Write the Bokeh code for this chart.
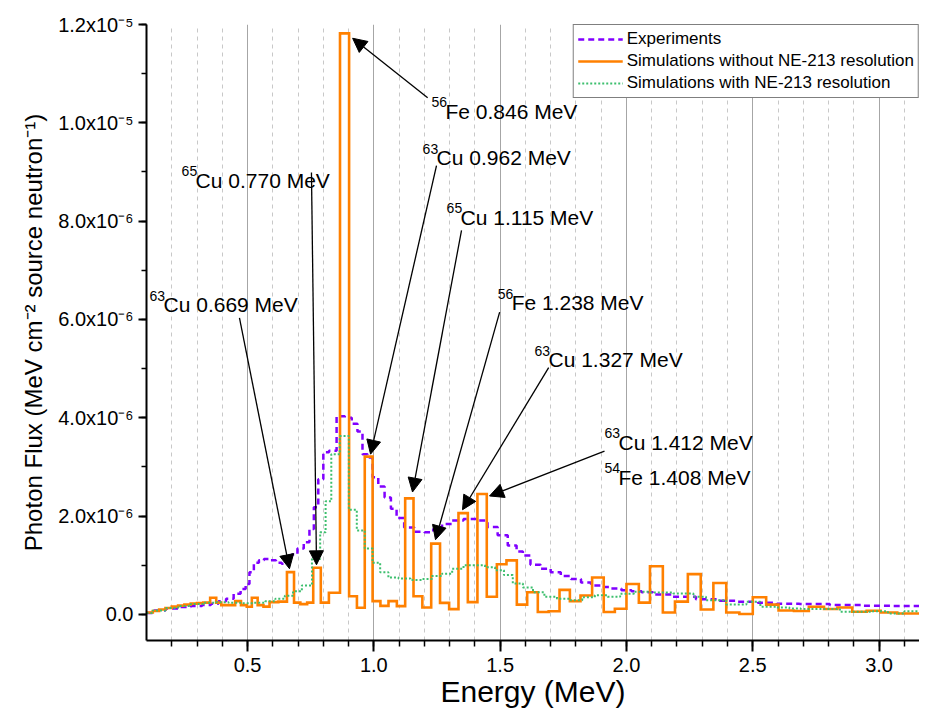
from bokeh.plotting import figure
from bokeh.models import ColumnDataSource, SingleIntervalTicker, Arrow, NormalHead, Range1d, PrintfTickFormatter
from bokeh.core.properties import value
from bokeh.embed import file_html
from bokeh.resources import INLINE

# ---------------- data (flux in units of 1e-6 MeV cm^-2 per source neutron) ----------------
# Simulations without NE-213 resolution: variable-width histogram (bin edges in MeV)
sim_edges = [0.100, 0.125, 0.150, 0.175, 0.200, 0.225, 0.250, 0.275, 0.300, 0.325,
             0.352, 0.376, 0.396, 0.423, 0.451, 0.474, 0.497, 0.517, 0.540, 0.563,
             0.587, 0.622, 0.656, 0.684, 0.709, 0.736, 0.760, 0.790, 0.822, 0.866,
             0.902, 0.933, 0.964, 0.995, 1.026, 1.058, 1.091, 1.124, 1.157, 1.192,
             1.227, 1.262, 1.298, 1.335, 1.372, 1.410, 1.447, 1.487, 1.525, 1.566,
             1.607, 1.649, 1.692, 1.735, 1.776, 1.818, 1.864, 1.910, 1.954, 2.000,
             2.049, 2.093, 2.144, 2.192, 2.243, 2.294, 2.344, 2.395, 2.447, 2.500,
             2.553, 2.602, 2.663, 2.722, 2.782, 2.835, 2.894, 2.951, 3.006, 3.072,
             3.132, 3.200]
sim_flux = [0.04, 0.07, 0.10, 0.13, 0.16, 0.18, 0.20, 0.22, 0.23, 0.24,
            0.34, 0.24, 0.19, 0.19, 0.27, 0.19, 0.155, 0.34, 0.19, 0.16,
            0.25, 0.26, 0.86, 0.24, 0.21, 0.24, 0.95, 0.24, 0.44, 11.82,
            0.37, 0.135, 3.21, 0.27, 0.175, 0.27, 0.17, 2.36, 0.37, 0.14,
            1.44, 0.236, 0.108, 2.06, 0.25, 2.45, 0.36, 1.02, 1.10, 0.20,
            0.45, 0.05, 0.065, 0.50, 0.27, 0.385, 0.75, 0.05, 0.115, 0.62,
            0.24, 0.98, 0.04, 0.26, 0.82, 0.10, 0.64, 0.04, 0.01, 0.35,
            0.20, 0.08, 0.07, 0.155, 0.11, 0.14, 0.054, 0.074, 0.04, 0.02,
            0.02]

# Experiments
exp_energy = [0.10, 0.15, 0.20, 0.25, 0.30, 0.34, 0.37, 0.40, 0.43, 0.46,
              0.485, 0.50, 0.515, 0.535, 0.555, 0.575, 0.60, 0.625, 0.645, 0.665,
              0.685, 0.71, 0.735, 0.755, 0.77, 0.79, 0.81, 0.835, 0.87, 0.90,
              0.925, 0.945, 0.965, 0.985, 1.005, 1.03, 1.055, 1.08, 1.10, 1.14,
              1.18, 1.22, 1.25, 1.29, 1.33, 1.38, 1.43, 1.47, 1.51, 1.55,
              1.58, 1.60, 1.64, 1.68, 1.72, 1.76, 1.80, 1.84, 1.88, 1.92,
              1.96, 2.00, 2.04, 2.08, 2.13, 2.23, 2.32, 2.40, 2.48, 2.56,
              2.63, 2.74, 2.87, 3.00, 3.10, 3.20]
exp_flux = [0.03, 0.08, 0.12, 0.15, 0.17, 0.19, 0.22, 0.27, 0.32, 0.42,
            0.52, 0.62, 0.86, 1.05, 1.10, 1.13, 1.10, 1.05, 1.03, 1.08,
            1.22, 1.34, 1.47, 1.74, 2.18, 2.75, 3.30, 3.33, 4.03, 4.00,
            3.88, 3.72, 3.26, 3.19, 2.79, 2.60, 2.38, 2.15, 1.96, 1.77,
            1.68, 1.67, 1.74, 1.84, 1.91, 1.94, 1.91, 1.78, 1.61, 1.40,
            1.28, 1.20, 1.01, 0.93, 0.86, 0.78, 0.72, 0.65, 0.59, 0.56,
            0.53, 0.49, 0.47, 0.45, 0.405, 0.36, 0.31, 0.28, 0.26, 0.236,
            0.22, 0.21, 0.19, 0.175, 0.17, 0.17]

# Simulations with NE-213 resolution
res_energy = [0.10, 0.15, 0.20, 0.25, 0.30, 0.35, 0.40, 0.45, 0.50, 0.55,
              0.59, 0.63, 0.665, 0.695, 0.735, 0.775, 0.80, 0.818, 0.845, 0.885,
              0.917, 0.948, 0.98, 1.01, 1.04, 1.075, 1.12, 1.17, 1.21, 1.25,
              1.29, 1.33, 1.38, 1.42, 1.46, 1.50, 1.53, 1.57, 1.61, 1.65,
              1.70, 1.75, 1.80, 1.85, 1.90, 1.95, 2.00, 2.06, 2.13, 2.24,
              2.29, 2.34, 2.45, 2.50, 2.56, 2.63, 2.66, 2.72, 2.80, 2.89,
              2.95, 3.00, 3.07, 3.13, 3.20]
res_flux = [0.03, 0.08, 0.13, 0.17, 0.21, 0.24, 0.25, 0.24, 0.23, 0.24,
            0.27, 0.32, 0.38, 0.47, 0.59, 1.13, 1.67, 2.30, 3.26, 3.63,
            2.13, 1.71, 1.34, 1.05, 0.86, 0.75, 0.73, 0.70, 0.72, 0.78,
            0.83, 0.93, 1.00, 1.00, 0.96, 0.90, 0.80, 0.63, 0.55, 0.45,
            0.36, 0.32, 0.29, 0.35, 0.39, 0.36, 0.42, 0.46, 0.445, 0.425,
            0.36, 0.29, 0.20, 0.26, 0.155, 0.14, 0.12, 0.11, 0.11, 0.054,
            0.055, 0.067, 0.02, 0.067, 0.067]

y_tick_values = [0, 2, 4, 6, 8, 10, 12]
y_tick_labels = ["0.0", "2.0x10⁻⁶", "4.0x10⁻⁶", "6.0x10⁻⁶", "8.0x10⁻⁶", "1.0x10⁻⁵", "1.2x10⁻⁵"]

# annotations: superscript, text, label anchor (E, flux), arrow tail, arrow tip
ann_sup = ["56", "63", "65", "56", "63", "63", "54", "63", "65"]
ann_text = ["Fe 0.846 MeV", "Cu 0.962 MeV", "Cu 1.115 MeV", "Fe 1.238 MeV", "Cu 1.327 MeV",
            "Cu 1.412 MeV", "Fe 1.408 MeV", "Cu 0.669 MeV", "Cu 0.770 MeV"]
ann_x = [1.228, 1.193, 1.288, 1.490, 1.636, 1.913, 1.913, 0.112, 0.239]
ann_y = [10.24, 9.29, 8.08, 6.34, 5.18, 3.50, 2.79, 6.30, 8.83]
arrows = [((1.213, 10.51), (0.916, 11.72)),
          ((1.248, 9.13), (0.987, 3.26)),
          ((1.347, 7.81), (1.153, 2.49)),
          ((1.498, 6.15), (1.244, 1.52)),
          ((1.692, 5.02), (1.351, 2.13)),
          ((1.913, 3.32), (1.458, 2.41)),
          ((0.468, 6.03), (0.666, 0.93)),
          ((0.753, 8.99), (0.773, 1.01))]

FONT = "Liberation Sans"

# ---------------- figure ----------------
p = figure(width=919, height=710, output_backend="svg", toolbar_location=None,
           x_range=Range1d(0.1, 3.16), y_range=Range1d(-0.53, 12.0),
           min_border_left=146, min_border_right=0, min_border_top=24, min_border_bottom=0)
p.outline_line_color = None
p.background_fill_color = "white"

# grid
p.ygrid.grid_line_color = None
p.xgrid.grid_line_color = "#a6a6a6"
p.xgrid.grid_line_width = 1
p.xgrid.minor_grid_line_color = "#c8c8c8"
p.xgrid.minor_grid_line_dash = "4 4"
p.xgrid.minor_grid_line_width = 1

# axes
p.xaxis.ticker = SingleIntervalTicker(interval=0.5, num_minor_ticks=5)
p.xaxis.formatter = PrintfTickFormatter(format="%.1f")
p.yaxis.ticker = SingleIntervalTicker(interval=2, num_minor_ticks=2)
p.yaxis.major_label_overrides = {v: l for v, l in zip(y_tick_values, y_tick_labels)}
for ax in (p.xaxis, p.yaxis):
    ax.axis_line_width = 2
    ax.axis_line_color = "black"
    ax.major_tick_line_width = 2
    ax.minor_tick_line_width = 1.5
    ax.major_tick_in = 0
    ax.minor_tick_in = 0
    ax.major_label_text_font = FONT
    ax.major_label_text_font_size = "20px"
    ax.major_label_text_color = "black"
    ax.axis_label_text_font = FONT
    ax.axis_label_text_font_style = "normal"
    ax.axis_label_text_color = "black"
p.xaxis.major_tick_out = 11
p.xaxis.minor_tick_out = 6
p.yaxis.major_tick_out = 8
p.yaxis.minor_tick_out = 5
p.xaxis.major_label_standoff = 6
p.yaxis.major_label_standoff = 5
p.xaxis.axis_label = "Energy (MeV)"
p.xaxis.axis_label_text_font_size = "30px"
p.xaxis.axis_label_standoff = 0
p.yaxis.axis_label = "Photon Flux (MeV cm⁻² source neutron⁻¹)"
p.yaxis.axis_label_text_font_size = "24px"
p.yaxis.axis_label_standoff = 8

# ---------------- series ----------------
p.step(exp_energy, exp_flux, mode="center", line_color="#8000ff", line_width=2.5,
       line_dash="6 4", legend_label="Experiments")

sx, sy = [], []
for i, v in enumerate(sim_flux):
    sx += [sim_edges[i], sim_edges[i + 1]]
    sy += [v, v]
p.line(sx, sy, line_color="#ff8000", line_width=2.6, line_join="miter",
       legend_label="Simulations without NE-213 resolution")

p.step(res_energy, res_flux, mode="center", line_color="#3dbf6e", line_width=2,
       line_dash="2 2", legend_label="Simulations with NE-213 resolution")

# ---------------- annotations ----------------
dx_sup = 14 / 252.6
dy_sup = 9 / 49.4
src_main = ColumnDataSource(dict(x=[x + dx_sup for x in ann_x], y=ann_y, t=ann_text))
src_sup = ColumnDataSource(dict(x=ann_x, y=[y + dy_sup for y in ann_y], t=ann_sup))
p.text(x="x", y="y", text="t", source=src_main, text_font=value(FONT), text_font_size="21px",
       text_color="black", text_align="left", text_baseline="middle")
p.text(x="x", y="y", text="t", source=src_sup, text_font=value(FONT), text_font_size="14px",
       text_color="black", text_align="left", text_baseline="middle")

for (tail, tip) in arrows:
    p.add_layout(Arrow(x_start=tail[0], y_start=tail[1], x_end=tip[0], y_end=tip[1],
                       line_color="black", line_width=1.3,
                       end=NormalHead(size=14, fill_color="black", line_color="black", line_width=1)))

# ---------------- legend ----------------
lg = p.legend[0]
lg.location = "top_right"
lg.margin = 0
lg.padding = 4
lg.spacing = 2
lg.border_line_color = "black"
lg.border_line_width = 1
lg.background_fill_alpha = 1
lg.label_text_font = FONT
lg.label_text_font_size = "17px"
lg.label_text_color = "black"
lg.glyph_width = 45
lg.glyph_height = 20
lg.label_height = 20
lg.label_standoff = 4

open("out.html", "w").write(file_html(p, INLINE))
